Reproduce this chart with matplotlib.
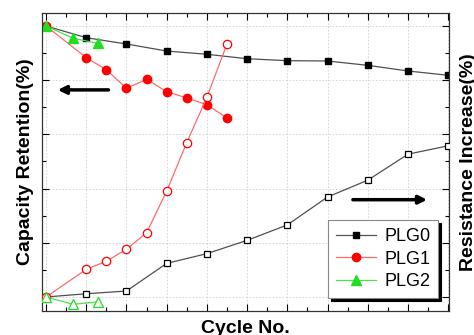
#### Imports ####
import matplotlib.pyplot as plt
from matplotlib.ticker import MultipleLocator

plt.rcParams['font.family'] = ['Liberation Sans', 'DejaVu Sans']

#### Data ####
cycles_plg0 = [0, 100, 200, 300, 400, 500, 600, 700, 800, 900, 1000]
cycles_plg1 = [0, 100, 150, 200, 250, 300, 350, 400, 450]
cycles_plg2 = [0, 67, 129]

# capacity retention (%), left axis
cap_plg0 = [100, 98.92, 98.34, 97.69, 97.39, 96.98, 96.80, 96.77, 96.37, 95.85, 95.45]
cap_plg1 = [100, 97.08, 95.97, 94.25, 95.08, 93.94, 93.36, 92.74, 91.51]
cap_plg2 = [100, 98.87, 98.40]

# resistance increase (%), right axis
res_plg0 = [0, 1.2, 2.2, 12.4, 16.0, 20.9, 26.6, 36.9, 43.1, 52.7, 55.8]
res_plg1 = [0, 10.2, 13.2, 17.6, 23.7, 39.1, 57.0, 73.7, 93.4]
res_plg2 = [0, -2.7, -1.8]

labels = ['PLG0', 'PLG1', 'PLG2']
line_colors = ['#505050', '#ff6a6a', '#4fe04f']
mark_colors = ['black', 'red', '#22dd22']
markers = ['s', 'o', '^']
msizes = [5, 6, 6.5]

#### Plot ####
fig = plt.figure(figsize=(4.74, 3.35), dpi=100)
ax = fig.add_axes([42 / 474, 24 / 335, 407 / 474, 298 / 335])
ax2 = ax.twinx()

cap_data = [(cycles_plg0, cap_plg0), (cycles_plg1, cap_plg1), (cycles_plg2, cap_plg2)]
res_data = [(cycles_plg0, res_plg0), (cycles_plg1, res_plg1), (cycles_plg2, res_plg2)]

handles = []
for i in range(3):
    # filled markers = capacity
    h, = ax.plot(cap_data[i][0], cap_data[i][1], color=line_colors[i], lw=0.9,
                 marker=markers[i], ms=msizes[i], mfc=mark_colors[i],
                 mec=mark_colors[i], label=labels[i], zorder=3)
    handles.append(h)
    # open markers = resistance
    ax2.plot(res_data[i][0], res_data[i][1], color=line_colors[i], lw=0.9,
             marker=markers[i], ms=msizes[i], mfc='white',
             mec=mark_colors[i], mew=0.9, zorder=3)

ax.set_xlim(-10, 1002)
ax.set_ylim(73.7, 101.2)
ax2.set_ylim(-5.17, 104.8)

ax.xaxis.set_major_locator(MultipleLocator(100))
ax.xaxis.set_minor_locator(MultipleLocator(50))
ax.yaxis.set_major_locator(MultipleLocator(5))
ax.yaxis.set_minor_locator(MultipleLocator(2.5))
ax2.yaxis.set_major_locator(MultipleLocator(20))
ax2.yaxis.set_minor_locator(MultipleLocator(10))

ax.tick_params(which='both', direction='in', top=True, labelleft=False,
               labelbottom=False, width=0.8)
ax.tick_params(which='major', length=5)
ax.tick_params(which='minor', length=3)
ax2.tick_params(which='both', direction='in', labelright=False, width=0.8)
ax2.tick_params(which='major', length=5)
ax2.tick_params(which='minor', length=3)

ax.grid(True, which='major', color='#d0d0d0', lw=0.6, ls=(0, (2, 2)))
ax.set_axisbelow(True)
for sp in ax2.spines.values():
    sp.set_color('#333333')

ax.set_xlabel('Cycle No.', fontsize=14, fontweight='bold')
ax.xaxis.set_label_coords(0.5, -0.03)
ax.set_ylabel('Capacity Retention(%)', fontsize=14, fontweight='bold')
ax.yaxis.set_label_coords(-0.02, 0.5)
ax2.set_ylabel('Resistance Increase(%)', fontsize=14, fontweight='bold')
ax2.yaxis.set_label_coords(1.026, 0.5)

# direction arrows
ax.annotate('', xy=(0.032, 0.742), xytext=(0.170, 0.742), xycoords='axes fraction',
            arrowprops=dict(arrowstyle='-|>', color='black', lw=2.5, mutation_scale=12))
ax.annotate('', xy=(0.953, 0.3735), xytext=(0.757, 0.3735), xycoords='axes fraction',
            arrowprops=dict(arrowstyle='-|>', color='black', lw=2.5, mutation_scale=12))

leg = ax2.legend(handles=handles, loc='lower left', bbox_to_anchor=(0.703, 0.043),
                 borderaxespad=0, fontsize=13, fancybox=False, framealpha=1,
                 edgecolor='#888888', handlelength=2.2, handletextpad=0.45,
                 labelspacing=0.3, borderpad=0.45,
                 shadow={'color': 'black', 'alpha': 1})
leg.get_frame().set_linewidth(0.8)

plt.savefig('out.png', dpi=100)
plt.close()
